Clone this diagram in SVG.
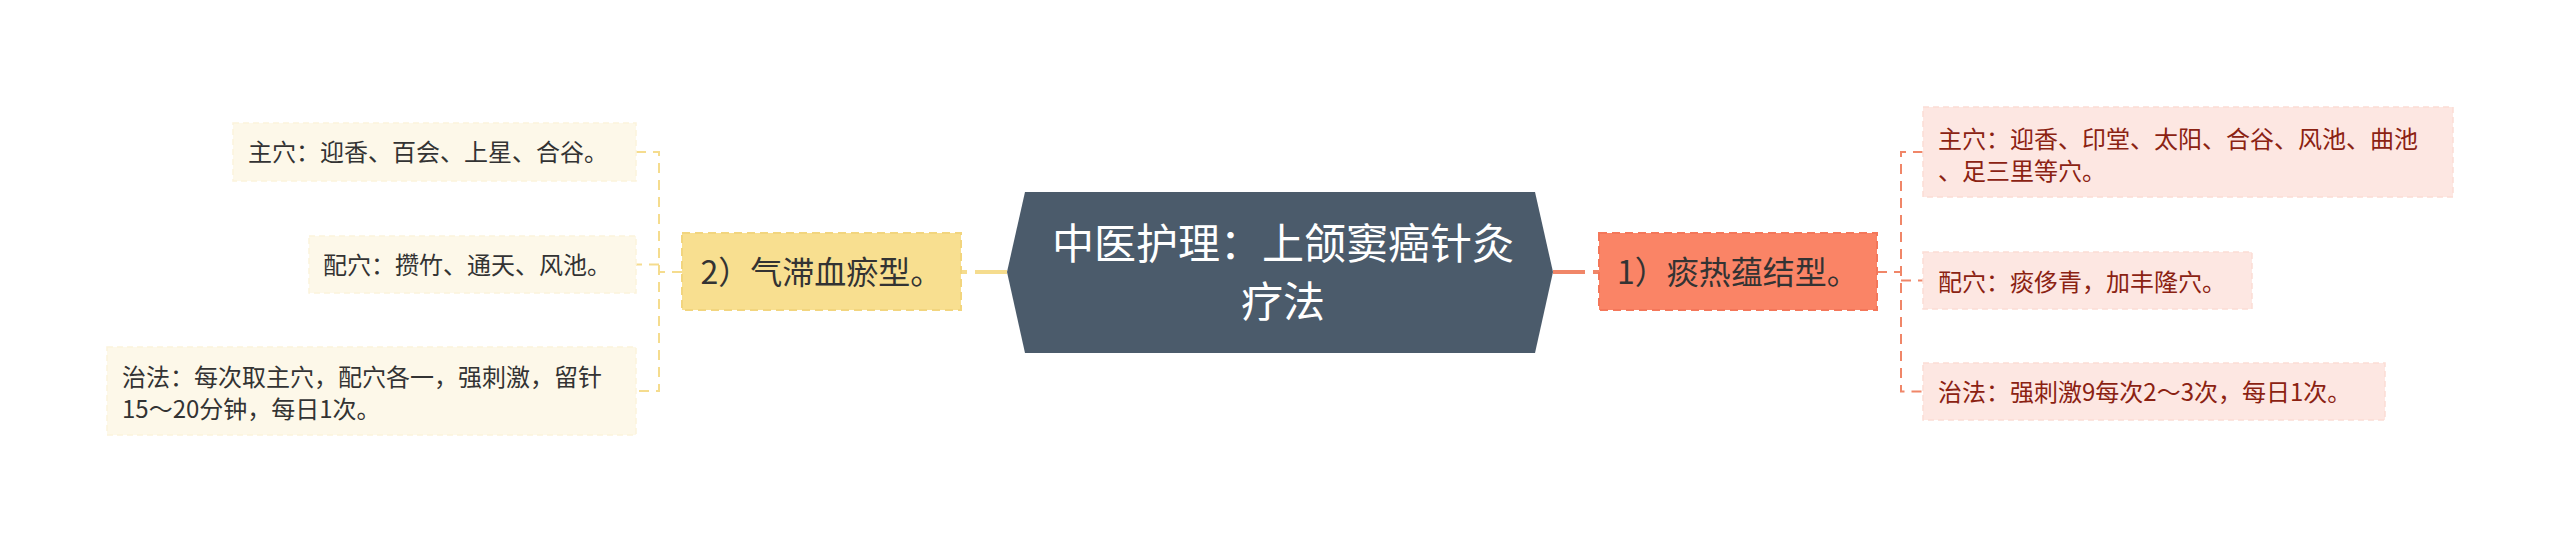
<svg xmlns="http://www.w3.org/2000/svg" width="2560" height="544" viewBox="0 0 2560 544">
<style>
text{font-family:"Noto Sans CJK SC","Noto Sans",sans-serif;}
.ct{font-size:42px;fill:#ffffff;text-anchor:middle;}
.bt{font-size:32px;fill:#333333;text-anchor:middle;}
.lt{font-size:24px;fill:#333333;}
.rt{font-size:24px;fill:#8B2212;}
.lleaf{fill:#FDF8E9;stroke:#FCF3DC;stroke-width:1.5;stroke-dasharray:6 4;}
.rleaf{fill:#FDE7E2;stroke:#FCDDD5;stroke-width:1.5;stroke-dasharray:6 4;}
.yc{fill:none;stroke:#F5DC8E;stroke-width:2;stroke-dasharray:10 7;}
.rc{fill:none;stroke:#F08668;stroke-width:2;stroke-dasharray:10 7;}
</style>
<rect width="2560" height="544" fill="#ffffff"/>
<g id="connectors">
<path d="M1007,272 H961" fill="none" stroke="#F5DC8E" stroke-width="4" stroke-dasharray="32 8"/>
<path d="M1553,272 H1599" fill="none" stroke="#F08668" stroke-width="4" stroke-dasharray="32 8"/>
<path class="yc" d="M682,272 H659"/>
<path class="yc" d="M636,152 H659 V391 H636"/>
<path class="yc" d="M659,264.5 H636"/>
<path class="rc" d="M1877,272 H1901"/>
<path class="rc" d="M1923,152 H1901 V391.5 H1923"/>
<path class="rc" d="M1901,280.5 H1923"/>
</g>
<g id="center">
<polygon points="1007,272 1025,192 1535,192 1553,272 1535,353 1025,353" fill="#4B5B6B"/>
<text class="ct" x="1283" y="259">中医护理：上颌窦癌针灸</text>
<text class="ct" x="1283" y="317">疗法</text>
</g>
<g id="branch1">
<rect x="1599" y="233" width="278" height="77" fill="#FA8466" stroke="#F4775A" stroke-width="2" stroke-dasharray="8 5"/>
<text class="bt" x="1738" y="284">1）痰热蕴结型。</text>
</g>
<g id="branch2">
<rect x="682" y="233" width="279" height="77" fill="#F8DF90" stroke="#F2D57E" stroke-width="2" stroke-dasharray="8 5"/>
<text class="bt" x="821.5" y="284">2）气滞血瘀型。</text>
</g>
<g id="r1">
<rect class="rleaf" x="1923" y="107" width="530" height="90"/>
<text class="rt" x="1938" y="148">主穴：迎香、印堂、太阳、合谷、风池、曲池</text>
<text class="rt" x="1938" y="180">、足三里等穴。</text>
</g>
<g id="r2">
<rect class="rleaf" x="1923" y="252" width="329" height="57"/>
<text class="rt" x="1938" y="291">配穴：痰侈青，加丰隆穴。</text>
</g>
<g id="r3">
<rect class="rleaf" x="1923" y="363" width="462" height="57"/>
<text class="rt" x="1938" y="401">治法：强刺激9每次2～3次，每日1次。</text>
</g>
<g id="l1">
<rect class="lleaf" x="233" y="123" width="403" height="58"/>
<text class="lt" x="248" y="161">主穴：迎香、百会、上星、合谷。</text>
</g>
<g id="l2">
<rect class="lleaf" x="309" y="236" width="327" height="57"/>
<text class="lt" x="323" y="274">配穴：攒竹、通天、风池。</text>
</g>
<g id="l3">
<rect class="lleaf" x="107" y="347" width="529" height="88"/>
<text class="lt" x="122" y="386">治法：每次取主穴，配穴各一，强刺激，留针</text>
<text class="lt" x="122" y="418">15～20分钟，每日1次。</text>
</g>
</svg>
